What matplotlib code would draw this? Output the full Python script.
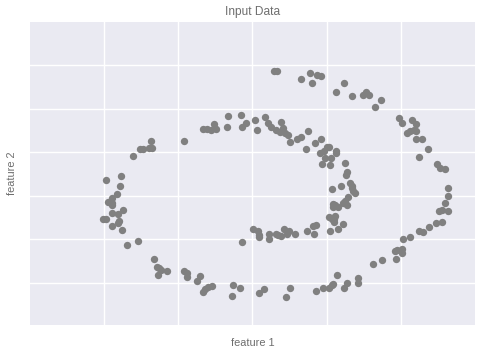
import matplotlib
matplotlib.use("Agg")
import matplotlib.pyplot as plt

# Points (horizontal position, vertical position in image units; vertical grows downward)
feature1 = [
    # left arc
    106, 121, 120, 117, 112, 108, 112, 112, 123, 112, 118, 103, 106, 119, 118, 112, 122,
    127, 138, 154, 157, 159, 161, 167, 158, 184, 187, 187, 200, 197, 203, 205, 208, 212,
    # upper left of inner
    133, 140, 143, 149, 152, 151, 184, 203, 207, 211, 216, 214,
    # top of inner
    228, 227, 241, 246, 242, 255, 257, 265, 268, 271, 276, 280, 283, 285, 288, 281, 290,
    297, 301, 308, 306, 315, 321, 327, 329, 324, 320, 336, 336, 325, 331, 322, 330, 345,
    347, 346, 350, 352, 352, 353, 355, 332, 341, 348, 345, 343, 347, 333, 333, 335, 338,
    # bottom of inner
    332, 329, 334, 335, 334, 330, 338, 343, 307, 313, 316, 314, 253, 258, 259, 259, 269,
    269, 276, 281, 278, 284, 287, 289, 295, 242,
    # outer bottom
    233, 240, 232, 264, 259, 290, 286, 316, 323, 329, 332, 333, 337, 347, 344, 358, 358,
    373, 382, 396, 395, 397, 402, 402, 403, 410, 419, 423, 429, 436, 442, 439, 442, 448,
    445, 448, 448,
    # outer top
    274, 277, 301, 310, 317, 321, 312, 336, 344, 352, 363, 366, 369, 381, 375, 399, 402,
    412, 416, 407, 410, 414, 416, 416, 422, 428, 419, 437, 440, 445,
]
feature2 = [
    180, 176, 186, 194, 198, 202, 203, 205, 210, 213, 214, 219, 219, 221, 223, 226, 230,
    245, 241, 259, 267, 268, 270, 271, 275, 271, 273, 277, 276, 281, 292, 289, 287, 286,
    156, 149, 149, 148, 148, 141, 141, 129, 129, 130, 129, 124,
    116, 127, 115, 123, 127, 120, 130, 117, 123, 127, 130, 132, 128, 133, 135, 122, 142,
    139, 137, 131, 149, 143, 139, 147, 147, 151, 153, 151, 153, 158, 158, 164, 165, 163,
    172, 175, 183, 186, 188, 191, 193, 189, 186, 197, 201, 203, 205, 204, 207, 205, 207,
    219, 217, 219, 216, 222, 231, 229, 224, 231, 226, 225, 234, 229, 231, 235, 237, 234,
    239, 234, 236, 235, 229, 234, 231, 234, 242,
    285, 288, 296, 289, 293, 288, 297, 291, 288, 288, 285, 284, 275, 283, 288, 278, 283,
    264, 260, 259, 251, 250, 249, 253, 239, 237, 231, 232, 227, 223, 222, 211, 210, 211,
    203, 196, 188,
    71, 71, 79, 73, 75, 76, 83, 92, 83, 96, 95, 92, 95, 100, 107, 118, 123,
    120, 124, 133, 131, 130, 131, 139, 139, 149, 157, 164, 168, 169,
]

x_ticks = [104, 178, 252, 327, 401]
y_ticks = [65, 109, 152, 196, 239, 283]

plt.rcParams['font.family'] = ['Liberation Sans', 'DejaVu Sans']
W, H = 482, 356
fig = plt.figure(figsize=(W / 100, H / 100), dpi=100)
ax = fig.add_axes([30 / W, (H - 325) / H, 445 / W, 303 / H])
ax.set_facecolor('#EAEAF2')
for s in ax.spines.values():
    s.set_visible(False)
ax.set_xlim(30, 475)
ax.set_ylim(325, 22)
ax.set_xticks(x_ticks)
ax.set_yticks(y_ticks)
ax.set_xticklabels([])
ax.set_yticklabels([])
ax.tick_params(length=0)
ax.grid(True, color='white', linewidth=1.0)
ax.set_axisbelow(True)

ax.scatter(feature1, feature2, s=28, color='#808080', linewidths=0, zorder=3)

txt = '#6e6e6e'
ax.set_title('Input Data', fontsize=8.6, color=txt, pad=5)
ax.set_xlabel('feature 1', fontsize=7.9, color=txt, labelpad=6)
ax.set_ylabel('feature 2', fontsize=7.9, color=txt, labelpad=5.5)

fig.savefig('out.png', dpi=100)
